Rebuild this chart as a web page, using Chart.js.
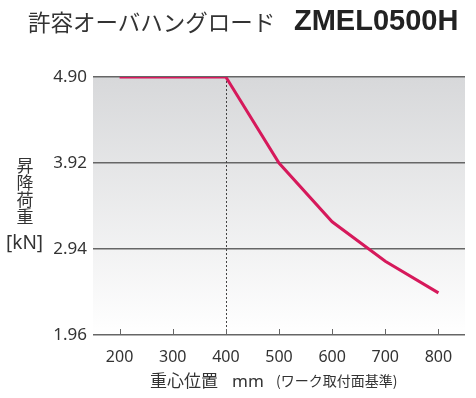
<!DOCTYPE html>
<html>
<head>
<meta charset="utf-8">
<script src="https://cdn.jsdelivr.net/npm/chart.js@4.4.1/dist/chart.umd.min.js"></script>
<style>
  html, body { margin: 0; padding: 0; background: #fff; }
  body { width: 476px; height: 398px; position: relative; overflow: hidden;
         font-family: "Noto Sans CJK JP", "Noto Sans", sans-serif; color: #333; }
  #wrap { position: absolute; left: 0; top: 0; width: 476px; height: 398px; }
  .txt { position: absolute; white-space: nowrap; line-height: 1; }
  #title { left: 28px; top: 10px; font-size: 22.5px; }
  #model { left: 294px; top: 6px; font-size: 29px; font-weight: bold;
           font-family: "Liberation Sans", sans-serif; color: #222; }
  #ytitle { left: 16px; top: 156px; font-size: 17px; width: 18px; line-height: 17px; text-align: center; }
  #yunit { left: 6px; top: 233px; font-size: 19px; font-family: "Noto Sans", sans-serif; }
  #xtitle { left: 150px; top: 371px; font-size: 17px; }
  #xtitle .mm { font-family: "Noto Sans", sans-serif; margin-left: 14px; }
  #xnote { left: 276px; top: 373px; font-size: 14px; }
</style>
</head>
<body>
<div id="wrap"><canvas id="chart"></canvas></div>
<div class="txt" id="title">許容オーバハングロード</div>
<div class="txt" id="model">ZMEL0500H</div>
<div class="txt" id="ytitle">昇<br>降<br>荷<br>重</div>
<div class="txt" id="yunit">[kN]</div>
<div class="txt" id="xtitle">重心位置<span class="mm">mm</span></div>
<div class="txt" id="xnote">(ワーク取付面基準)</div>
<script>
// data
const positions = [200, 300, 400, 500, 600, 700, 800];
const loads = [4.90, 4.90, 4.90, 3.92, 3.25, 2.80, 2.44];
const xTicks = [200, 300, 400, 500, 600, 700, 800];
const yTicks = [1.96, 2.94, 3.92, 4.90];
const limitPos = 400;

// gray to white fill behind the plot
const bgFill = {
  id: "bgFill",
  beforeDraw(chart) {
    const { ctx, chartArea: a } = chart;
    const g = ctx.createLinearGradient(0, a.top, 0, a.bottom);
    g.addColorStop(0, "#d7d8da");
    g.addColorStop(1, "#ffffff");
    ctx.save();
    ctx.fillStyle = g;
    ctx.fillRect(a.left, a.top, a.right - a.left, a.bottom - a.top);
    ctx.restore();
  },
};

// dotted line at the limit and small tick marks going up from the axis
const marks = {
  id: "marks",
  beforeDatasetsDraw(chart) {
    const { ctx, chartArea: a, scales } = chart;
    ctx.save();
    ctx.strokeStyle = "#444";
    ctx.lineWidth = 1;
    ctx.setLineDash([2, 2]);
    const lx = Math.round(scales.x.getPixelForValue(limitPos)) + 0.5;
    ctx.beginPath();
    ctx.moveTo(lx, a.top);
    ctx.lineTo(lx, a.bottom);
    ctx.stroke();
    ctx.setLineDash([]);
    ctx.strokeStyle = "#666";
    xTicks.forEach((v) => {
      const x = Math.round(scales.x.getPixelForValue(v)) + 0.5;
      ctx.beginPath();
      ctx.moveTo(x, a.bottom);
      ctx.lineTo(x, a.bottom - 6);
      ctx.stroke();
    });
    ctx.restore();
  },
};

new Chart(document.getElementById("chart"), {
  type: "line",
  data: {
    datasets: [
      {
        data: positions.map((p, i) => ({ x: p, y: loads[i] })),
        borderColor: "#d6195b",
        borderWidth: 3,
        pointRadius: 0,
        tension: 0,
        fill: false,
      },
    ],
  },
  options: {
    responsive: true,
    maintainAspectRatio: false,
    animation: false,
    layout: { padding: { top: 77, right: 11, left: 0, bottom: 33 } },
    plugins: { legend: { display: false }, tooltip: { enabled: false } },
    scales: {
      x: {
        type: "linear",
        min: 150,
        max: 850,
        afterBuildTicks: (s) => { s.ticks = xTicks.map((v) => ({ value: v })); },
        afterFit: (s) => { s.height = 30; },
        grid: { display: false },
        border: { display: false },
        ticks: {
          padding: 5,
          color: "#333",
          font: { family: "'Noto Sans', sans-serif", size: 16 },
          maxRotation: 0,
        },
      },
      y: {
        min: 1.96,
        max: 4.90,
        afterBuildTicks: (s) => { s.ticks = yTicks.map((v) => ({ value: v })); },
        afterFit: (s) => { s.width = 93; },
        grid: { color: "#666", lineWidth: 1.5, drawTicks: false },
        border: { display: false },
        ticks: {
          padding: 6,
          color: "#333",
          font: { family: "'Noto Sans', sans-serif", size: 17 },
          callback: (v) => Number(v).toFixed(2),
        },
      },
    },
  },
  plugins: [bgFill, marks],
});
</script>
</body>
</html>
